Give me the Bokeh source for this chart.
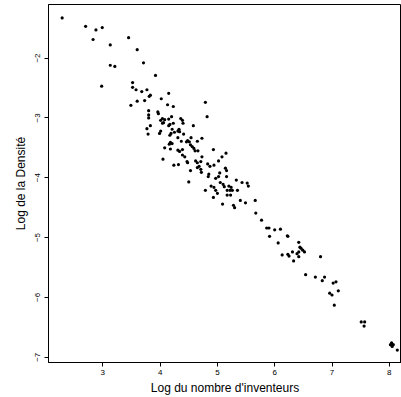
from bokeh.plotting import figure
from bokeh.models import FixedTicker, Range1d
from bokeh.embed import file_html
from bokeh.resources import INLINE

# Log of number of inventors (x) and log of density (y)
log_inventeurs = [
    2.29, 2.70, 2.88, 2.99, 2.83, 3.13, 3.45, 3.60, 3.13, 3.21, 3.71, 3.92,
    2.98, 3.52, 3.52, 3.58, 3.68, 3.77, 3.83, 3.81, 4.15, 4.02, 3.60, 3.73,
    3.49, 4.13, 4.23, 4.79, 4.82, 3.80, 3.96, 3.97, 3.80, 3.80, 4.04, 4.08,
    4.01, 4.20, 4.15, 4.36, 4.39, 4.40, 4.06, 4.04, 4.23, 4.58, 4.15, 4.17,
    3.83, 3.77, 4.01, 3.99, 4.21, 4.25, 4.33, 4.34, 4.31, 3.79, 4.19, 4.17,
    4.41, 4.31, 4.54, 4.48, 4.46, 4.51, 4.73, 4.37, 4.65, 4.18, 4.16, 4.21,
    4.53, 4.56, 4.59, 4.08, 4.18, 4.31, 4.34, 4.39, 4.61, 4.66, 4.93, 5.15,
    5.08, 4.39, 4.43, 4.05, 4.73, 4.47, 4.48, 4.62, 4.65, 4.71, 4.32, 4.24,
    4.68, 4.65, 4.83, 4.87, 4.94, 5.02, 5.14, 5.16, 4.53, 4.71, 4.72, 4.85,
    4.84, 5.04, 5.02, 4.97, 5.16, 4.50, 5.33, 5.43, 5.52, 5.54, 5.05, 5.10,
    5.12, 4.89, 4.94, 4.97, 5.20, 5.24, 5.26, 5.22, 5.35, 5.17, 4.79, 5.00,
    4.93, 5.17, 5.23, 5.40, 5.49, 5.09, 5.28, 5.30,
    5.66, 5.67, 5.77, 5.86, 5.90, 6.00, 6.10, 5.91, 6.22, 6.23, 6.06, 6.42,
    6.44, 6.46, 6.49, 6.52, 6.42, 6.39, 6.42, 6.31, 6.23, 6.25, 6.13, 6.80,
    6.33, 6.54, 6.71, 6.83, 6.87, 7.02, 7.07, 6.96, 7.00, 7.11, 7.04, 7.51,
    7.57, 7.56, 8.04, 8.07, 8.05, 8.02, 8.14,
]
log_densite = [
    -1.33, -1.47, -1.53, -1.49, -1.69, -1.78, -1.66, -1.86, -2.12, -2.14, -2.08, -2.29,
    -2.47, -2.41, -2.49, -2.53, -2.56, -2.53, -2.62, -2.64, -2.59, -2.68, -2.72, -2.71,
    -2.79, -2.78, -2.81, -2.74, -2.98, -2.88, -2.90, -2.93, -2.95, -3.00, -3.01, -3.03,
    -3.04, -2.98, -3.02, -3.01, -3.04, -3.09, -3.08, -3.09, -3.09, -3.13, -3.13, -3.11,
    -3.13, -3.18, -3.22, -3.26, -3.19, -3.24, -3.19, -3.23, -3.22, -3.27, -3.26, -3.29,
    -3.27, -3.33, -3.33, -3.38, -3.40, -3.40, -3.34, -3.39, -3.39, -3.41, -3.44, -3.43,
    -3.45, -3.48, -3.51, -3.50, -3.52, -3.54, -3.56, -3.53, -3.55, -3.55, -3.53, -3.59,
    -3.65, -3.62, -3.65, -3.69, -3.65, -3.73, -3.75, -3.72, -3.75, -3.73, -3.78, -3.79,
    -3.81, -3.83, -3.77, -3.81, -3.79, -3.72, -3.84, -3.88, -3.88, -3.86, -3.91, -3.94,
    -3.98, -3.92, -3.98, -4.01, -3.98, -4.07, -4.04, -4.08, -4.09, -4.14, -4.08, -4.11,
    -4.15, -4.14, -4.16, -4.21, -4.14, -4.16, -4.21, -4.21, -4.21, -4.21, -4.21, -4.26,
    -4.33, -4.29, -4.29, -4.38, -4.42, -4.44, -4.46, -4.50,
    -4.38, -4.59, -4.71, -4.84, -4.84, -4.87, -4.86, -4.98, -4.97, -4.98, -5.09, -5.08,
    -5.16, -5.18, -5.21, -5.24, -5.24, -5.27, -5.32, -5.24, -5.28, -5.31, -5.29, -5.32,
    -5.39, -5.62, -5.66, -5.72, -5.66, -5.76, -5.74, -5.93, -5.96, -5.89, -6.13, -6.41,
    -6.41, -6.48, -6.76, -6.79, -6.82, -6.79, -6.88,
]

x_ticks = [3, 4, 5, 6, 7, 8]
y_ticks = [-7, -6, -5, -4, -3, -2]
x_title = "Log du nombre d'inventeurs"
y_title = "Log de la Densité"

FONT = "Liberation Sans"

p = figure(
    width=401, height=397,
    output_backend="svg", toolbar_location=None,
    x_range=Range1d(2.052, 8.213), y_range=Range1d(-7.088, -1.105),
    min_border_left=48, min_border_right=0, min_border_top=4, min_border_bottom=34,
)
p.outline_line_color = "black"
p.xgrid.visible = False
p.ygrid.visible = False

p.xaxis.ticker = FixedTicker(ticks=x_ticks)
p.yaxis.ticker = FixedTicker(ticks=y_ticks)
p.xaxis.axis_label = x_title
p.yaxis.axis_label = y_title
p.axis.axis_label_text_font = FONT
p.axis.axis_label_text_font_size = "12px"
p.axis.axis_label_text_font_style = "normal"
p.axis.axis_label_text_color = "black"
p.axis.major_label_text_font = FONT
p.axis.major_label_text_font_size = "8px"
p.axis.major_label_text_color = "black"
p.axis.major_tick_out = 4
p.axis.major_tick_in = 0

p.xaxis.major_label_standoff = 3
p.xaxis.axis_label_standoff = 3
p.yaxis.major_label_orientation = "vertical"
p.yaxis.major_label_standoff = 4
p.yaxis.axis_label_standoff = 5

p.scatter(log_inventeurs, log_densite, size=3.2, fill_color="black", line_color=None, marker="circle")

open("out.html", "w").write(file_html(p, INLINE))
